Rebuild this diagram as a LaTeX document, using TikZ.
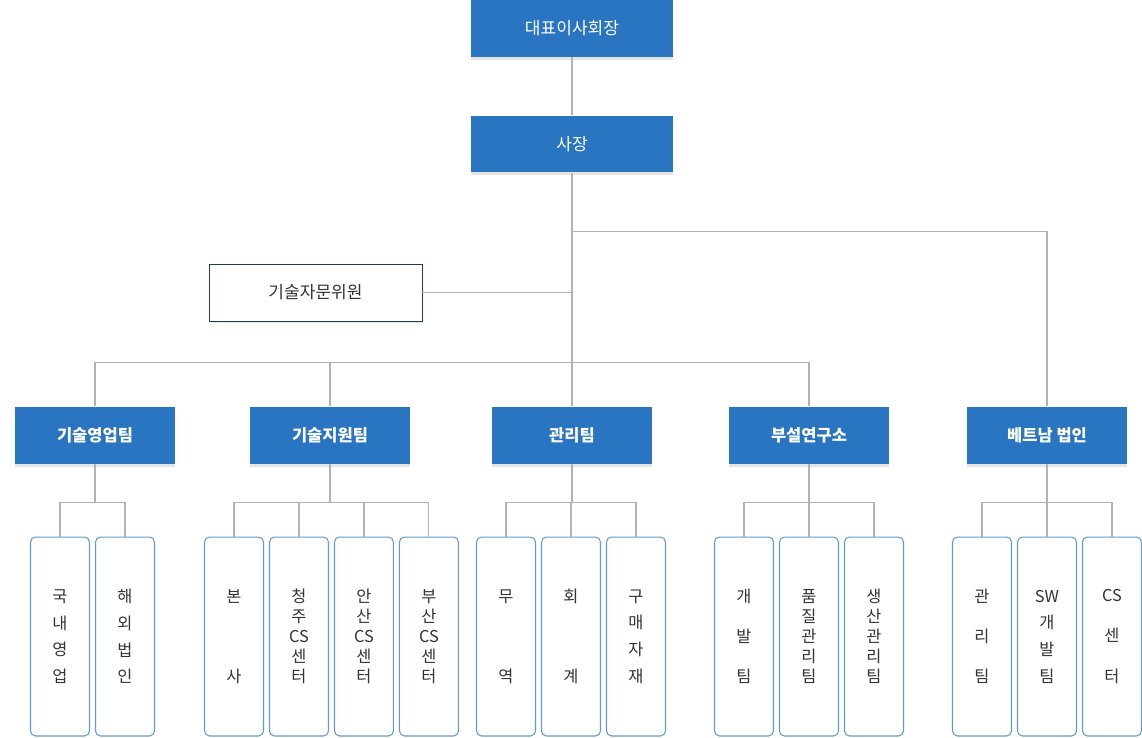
\documentclass[tikz,border=0pt]{standalone}
\usepackage{fontspec}
\newfontfamily\kr{Noto Sans CJK KR}
\usetikzlibrary{positioning,shadows}
\definecolor{Topblue}{RGB}{42,117,194}
\definecolor{Shade}{RGB}{229,229,229}
\definecolor{Linegrey}{RGB}{178,178,178}
\definecolor{Unitblue}{RGB}{102,153,208}
\definecolor{Navy}{RGB}{31,58,90}
\definecolor{Ink}{RGB}{51,51,51}

\begin{document}
\begin{tikzpicture}[x=0.02cm,y=-0.02cm,
    exec/.style={rectangle,fill=Topblue,text=white,minimum width=4.04cm,minimum height=1.14cm,font=\kr\fontsize{9.7}{12}\selectfont,general shadow={fill=Shade,shadow yshift=-0.06cm}},
    team/.style={exec,minimum width=3.2cm,font=\kr\bfseries\fontsize{9.4}{12}\selectfont},
    advisor/.style={rectangle,draw=Navy,fill=white,text=Ink,minimum width=4.26cm,minimum height=1.14cm,font=\kr\fontsize{9.7}{12}\selectfont,general shadow={fill=Shade,shadow xshift=0.03cm,shadow yshift=-0.05cm}},
    dept/.style={rectangle,rounded corners=0.1cm,draw=Unitblue,line width=0.6pt,outer sep=0pt,fill=white,text=Ink,minimum width=1.18cm,minimum height=3.98cm,align=center,font=\kr\fontsize{9.3}{#1}\selectfont},
    link/.style={draw=Linegrey,line width=0.6pt}
]
\useasboundingbox (0,0) rectangle (1142,737);

% Top management
\node[exec] (chair) at (572,28.5) {대표이사회장};
\node[exec] (pres) at (572,144) {사장};
\node[advisor] (adv) at (315.5,292.5) {기술자문위원};

% Teams
\node[team] (sales) at (95,435) {기술영업팀};
\node[team] (support) at (330,435) {기술지원팀};
\node[team] (mgmt) at (572,435) {관리팀};
\node[team] (rnd) at (809,435) {부설연구소};
\node[team] (vn) at (1047,435) {베트남 법인};

% Sales units
\node[dept=15.2pt] (domestic) at (60,636.5) {국\\내\\영\\업};
\node[dept=15.2pt,right=0.12cm of domestic] (overseas) {해\\외\\법\\인};

% Support units
\node[dept=45.5pt] (hq) at (234,636.5) {본\\사};
\node[dept=11.4pt,right=0.12cm of hq] (cheongju) {청\\주\\CS\\센\\터};
\node[dept=11.4pt,right=0.12cm of cheongju] (ansan) {안\\산\\CS\\센\\터};
\node[dept=11.4pt,right=0.12cm of ansan] (busan) {부\\산\\CS\\센\\터};

% Management units
\node[dept=45.5pt] (trade) at (506,636.5) {무\\역};
\node[dept=45.5pt,right=0.12cm of trade] (account) {회\\계};
\node[dept=15.2pt,right=0.12cm of account] (purchase) {구\\매\\자\\재};

% Research units
\node[dept=22.8pt] (dev) at (744,636.5) {개\\발\\팀};
\node[dept=11.4pt,right=0.12cm of dev] (quality) {품\\질\\관\\리\\팀};
\node[dept=11.4pt,right=0.12cm of quality] (production) {생\\산\\관\\리\\팀};

% Vietnam units
\node[dept=22.8pt] (vnadmin) at (982,636.5) {관\\리\\팀};
\node[dept=15.2pt,right=0.12cm of vnadmin] (vnsw) {SW\\개\\발\\팀};
\node[dept=22.8pt,right=0.12cm of vnsw] (vncs) {CS\\센\\터};

% Links
\draw[link] (chair) -- (pres);
\draw[link] (pres) -- (mgmt);
\draw[link] (adv.east) -- (adv.east -| pres.south);
\draw[link] (pres.south) -- ++(0,58.5) -| (vn.north);
\draw[link] (sales.north) -- ++(0,-44) -| (rnd.north);
\draw[link] (support.north) -- ++(0,-44);
\foreach \t/\d in {sales/domestic,sales/overseas,support/hq,support/cheongju,support/ansan,support/busan,mgmt/trade,mgmt/account,mgmt/purchase,rnd/dev,rnd/quality,rnd/production,vn/vnadmin,vn/vnsw,vn/vncs}
  \draw[link] (\t.south) -- ++(0,39) -| (\d.north);

\end{tikzpicture}
\end{document}
